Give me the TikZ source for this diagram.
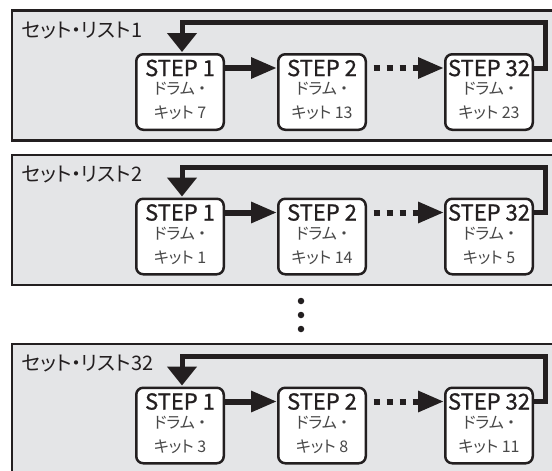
\documentclass[tikz,border=0pt]{standalone}
\usepackage{fontspec}
\setmainfont[RawFeature={+palt}]{Noto Sans CJK JP}
\newfontfamily\stepfont[FakeBold=0.9]{Noto Sans CJK JP}
\usetikzlibrary{arrows.meta}

\definecolor{ink}{HTML}{231F20}
\definecolor{panelgray}{HTML}{E4E5E7}
\definecolor{subgray}{HTML}{484848}

\tikzset{
  panel/.style={draw=ink, line width=2.2pt, fill=panelgray},
  stepbox/.style={draw=ink, line width=2.5pt, fill=white, rounded corners=7pt,
    minimum width=87.5pt, minimum height=75.5pt, inner sep=0pt},
  steptitle/.style={text=ink, font=\stepfont\fontsize{22}{22}\selectfont, inner sep=0pt},
  stepsub/.style={text=subgray, font=\fontsize{16}{16}\selectfont, inner sep=0pt},
  listlabel/.style={text=ink, font=\fontsize{20}{20}\selectfont, inner sep=0pt, anchor=west},
  flow/.style={draw=ink, line width=6pt, -{Triangle[length=26pt,width=20pt]}},
  skipflow/.style={flow, dash pattern=on 6.5pt off 6.5pt, dash phase=6.5pt},
  loopback/.style={draw=ink, line width=5pt, line join=miter,
    -{Triangle[length=19pt,width=29pt]}},
  dot/.style={circle, fill=ink, minimum size=6.5pt, inner sep=0pt},
}

% one set list: #1 name prefix, #2 top edge, #3 title, #4-#6 kit numbers
\newcommand{\drawsetlist}[6]{%
  \path[panel] (12,#2) rectangle (600,#2+130);
  \node[listlabel] (#1lab) at (21,#2+20) {#3};
  \node[stepbox] (#1a) at (180,#2+81.5) {};
  \node[stepbox] (#1b) at (322,#2+81.5) {};
  \node[stepbox] (#1c) at (489,#2+81.5) {};
  \foreach \b/\k/\s in {a/#4/1, b/#5/2, c/#6/32} {
    \node[steptitle] (#1\b t) at ([yshift=-15pt]#1\b.north) {STEP \s};
    \node[stepsub] (#1\b u) at ([yshift=-36pt]#1\b.north) {ドラム\hspace{3pt}・};
    \node[stepsub] (#1\b v) at ([yshift=-60pt]#1\b.north) {キット \k};
  }
  \draw[flow] ([yshift=24pt]#1a.east) -- ([yshift=24pt]#1b.west);
  \draw[skipflow] ([yshift=24pt]#1b.east) -- ([yshift=24pt]#1c.west);
  \draw[loopback] ([yshift=24pt]#1c.east) -- ++(11,0) |- (182,#2+12)
    -- ([xshift=2pt,yshift=1pt]#1a.north);
}

\begin{document}
\begin{tikzpicture}[x=1pt, y=-1pt]
  \useasboundingbox (0,0) rectangle (552,471);
  \clip (0,0) rectangle (552,471);
  \fill[white] (0,0) rectangle (552,471);

  \drawsetlist{p}{10.5}{セット・リスト1}{7}{13}{23}
  \drawsetlist{q}{155}{セット・リスト2}{1}{14}{5}
  \drawsetlist{r}{344}{セット・リスト32}{3}{8}{11}

  \node[dot] (d1) at (301,301) {};
  \node[dot] (d2) at (301,315) {};
  \node[dot] (d3) at (301,329) {};
\end{tikzpicture}
\end{document}
